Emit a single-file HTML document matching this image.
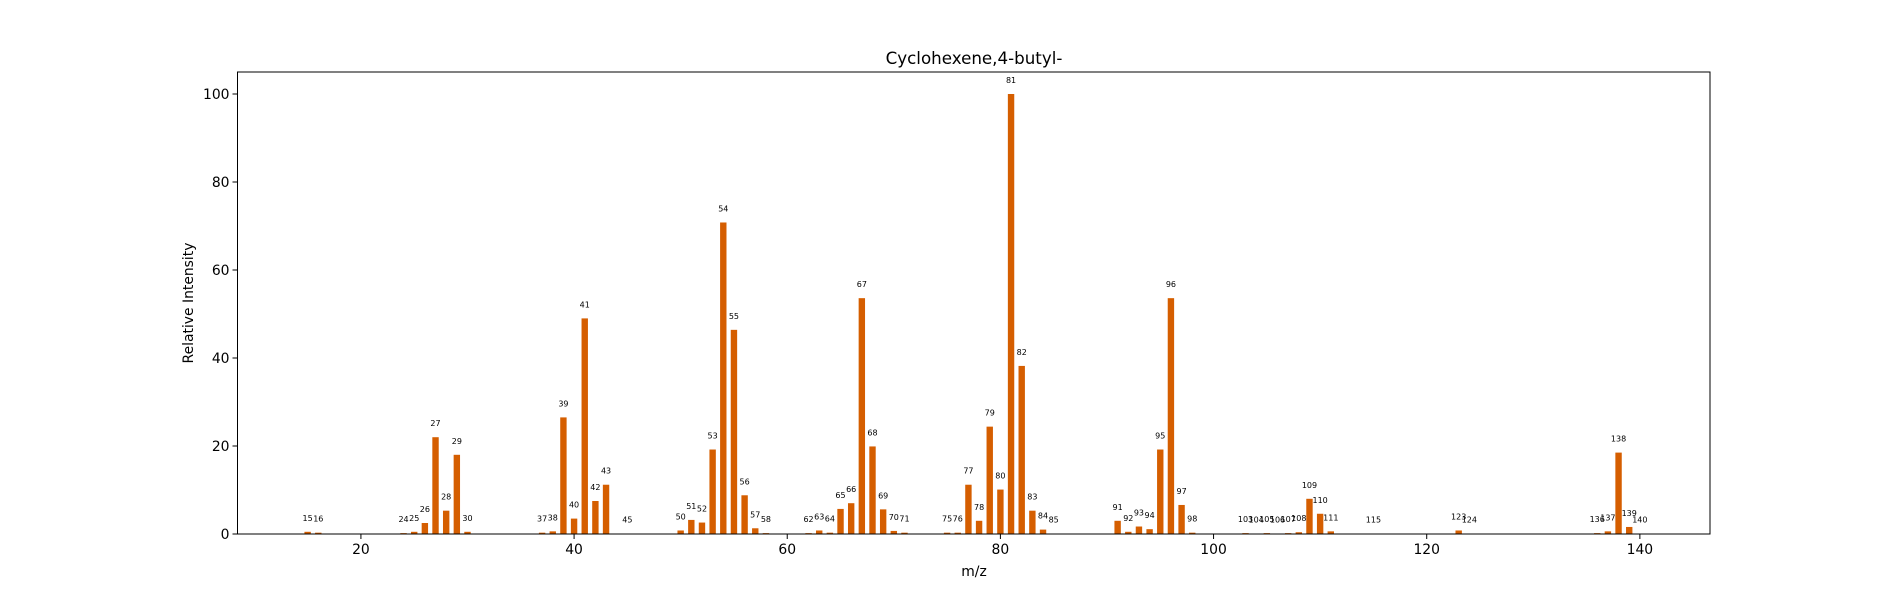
<!DOCTYPE html>
<html><head><meta charset="utf-8"><style>
body{margin:0;background:#fff}
svg{display:block;font-family:"DejaVu Sans","Liberation Sans",sans-serif}
</style></head><body>
<svg id="chart" width="1900" height="600" xmlns="http://www.w3.org/2000/svg">
<rect width="1900" height="600" fill="#fff"/>
<text x="974" y="64" font-size="16.7" text-anchor="middle" fill="#000">Cyclohexene,4-butyl-</text>
<text x="974" y="576" font-size="13.9" text-anchor="middle" fill="#000">m/z</text>
<text x="193" y="303" font-size="13.9" text-anchor="middle" fill="#000" transform="rotate(-90 193 303)">Relative Intensity</text>
<g id="bars"></g><g id="labels"></g><g id="axes"></g>
</svg>
<script>
const mz = [15,16,24,25,26,27,28,29,30,37,38,39,40,41,42,43,45,50,51,52,53,54,55,56,57,58,62,63,64,65,66,67,68,69,70,71,75,76,77,78,79,80,81,82,83,84,85,91,92,93,94,95,96,97,98,103,104,105,106,107,108,109,110,111,115,123,124,136,137,138,139,140];
const intensity = [0.5,0.3,0.2,0.5,2.5,22,5.3,18,0.5,0.3,0.6,26.5,3.5,49,7.5,11.2,0.1,0.8,3.2,2.6,19.2,70.8,46.4,8.8,1.3,0.2,0.2,0.8,0.3,5.7,7,53.6,19.9,5.6,0.7,0.3,0.3,0.3,11.2,3,24.4,10.1,100,38.2,5.3,1,0.1,3,0.5,1.7,1.1,19.2,53.6,6.6,0.3,0.2,0.1,0.2,0.1,0.2,0.4,8,4.6,0.6,0.1,0.8,0.1,0.2,0.6,18.5,1.6,0.1];
const xTicks = [20,40,60,80,100,120,140];
const yTicks = [0,20,40,60,80,100];

const L=237.5,R=1710,T=72,B=534;
const xMin=8.42,xMax=146.58,yMax=105;
const xs=v=>L+(v-xMin)/(xMax-xMin)*(R-L);
const ys=v=>B-v/yMax*(B-T);
const NS="http://www.w3.org/2000/svg";
function mk(tag,attrs,parent){const e=document.createElementNS(NS,tag);for(const k in attrs)e.setAttribute(k,attrs[k]);parent.appendChild(e);return e;}
const gb=document.getElementById('bars'),gl=document.getElementById('labels'),ga=document.getElementById('axes');
const bw=0.6;
mz.forEach((m,i)=>{
  const v=intensity[i];
  const r=mk('rect',{x:xs(m-bw/2),y:ys(v),width:xs(m+bw/2)-xs(m-bw/2),height:B-ys(v),fill:'#d55e00'},gb);
  
  
  const t=mk('text',{x:xs(m),y:ys(v)-11,'font-size':'8','text-anchor':'middle',fill:'#000'},gl);
  t.textContent=m;
  
  
});
const frame=mk('rect',{x:L,y:T,width:R-L,height:B-T,fill:'none',stroke:'#000','stroke-width':1},ga);


xTicks.forEach(v=>{
  const x=xs(v);
  mk('line',{x1:x,x2:x,y1:B,y2:B+5,stroke:'#000'},ga);
  const t=mk('text',{x:x,y:B+20,'font-size':'13.9','text-anchor':'middle',fill:'#000'},ga);
  t.textContent=v;
  
  
});
yTicks.forEach(v=>{
  const y=ys(v);
  mk('line',{x1:L-5,x2:L,y1:y,y2:y,stroke:'#000'},ga);
  const t=mk('text',{x:L-8,y:y+5,'font-size':'13.9','text-anchor':'end',fill:'#000'},ga);
  t.textContent=v;
  
  
});
</script>
</body></html>
